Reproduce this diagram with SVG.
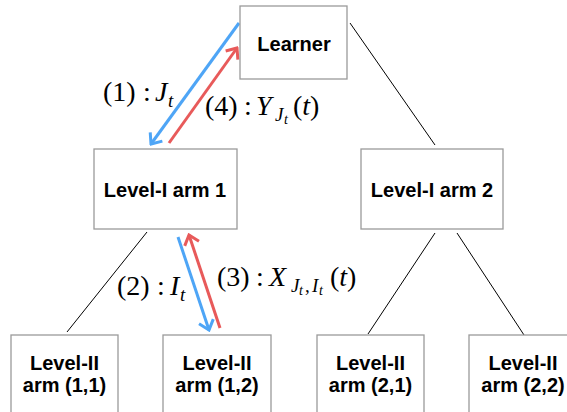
<svg xmlns="http://www.w3.org/2000/svg" width="567" height="412" viewBox="0 0 567 412">
<style>
.box{fill:#fff;stroke:#9a9a9a;stroke-width:1.3}
.lbl{font-family:"Liberation Sans",Arial,sans-serif;font-weight:bold;font-size:20px;fill:#000;text-anchor:middle}
.edge{stroke:#000;stroke-width:1;fill:none}
.blue{stroke:#4ea5f6;stroke-width:3;fill:none}
.red{stroke:#e85a5a;stroke-width:3;fill:none}
.m{font-family:"Liberation Serif","Times New Roman",serif;font-size:28px;fill:#000}
.i{font-style:italic}
.s{font-size:19px}
.ss{font-size:14px}
</style>
<defs>
<marker id="ab" viewBox="-12 -10 14 20" markerWidth="14" markerHeight="20" refX="0" refY="0" orient="auto" markerUnits="userSpaceOnUse">
<path d="M-9,-7.5 L0,0 L-9,7.5" fill="none" stroke="#4ea5f6" stroke-width="3"/>
</marker>
<marker id="ar" viewBox="-12 -10 14 20" markerWidth="14" markerHeight="20" refX="0" refY="0" orient="auto" markerUnits="userSpaceOnUse">
<path d="M-9,-7.5 L0,0 L-9,7.5" fill="none" stroke="#e85a5a" stroke-width="3"/>
</marker>
</defs>
<g id="connectors">
<line class="edge" x1="350" y1="23" x2="435" y2="145"/>
<line class="edge" x1="147" y1="232" x2="67" y2="332"/>
<line class="edge" x1="435" y1="233" x2="368" y2="334"/>
<line class="edge" x1="457" y1="233" x2="524" y2="335"/>
<line class="blue" x1="239" y1="23" x2="151" y2="144" marker-end="url(#ab)"/>
<line class="red" x1="169" y1="143" x2="237" y2="48" marker-end="url(#ar)"/>
<line class="blue" x1="178" y1="237" x2="209" y2="330" marker-end="url(#ab)"/>
<line class="red" x1="220" y1="328" x2="189" y2="235" marker-end="url(#ar)"/>
</g>
<g id="learner">
<rect class="box" x="240" y="6" width="107" height="73"/>
<text class="lbl" x="294" y="51">Learner</text>
</g>
<g id="level1-arm1">
<rect class="box" x="94" y="149" width="143" height="80"/>
<text class="lbl" x="165" y="197">Level-I arm 1</text>
</g>
<g id="level1-arm2">
<rect class="box" x="361" y="149" width="142" height="80"/>
<text class="lbl" x="432" y="197">Level-I arm 2</text>
</g>
<g id="level2-arm11">
<rect class="box" x="11" y="335" width="107" height="90"/>
<text class="lbl" x="64.5" y="370">Level-II</text>
<text class="lbl" x="64.5" y="392">arm (1,1)</text>
</g>
<g id="level2-arm12">
<rect class="box" x="163" y="335" width="108" height="90"/>
<text class="lbl" x="217" y="370">Level-II</text>
<text class="lbl" x="217" y="392">arm (1,2)</text>
</g>
<g id="level2-arm21">
<rect class="box" x="317" y="335" width="107" height="90"/>
<text class="lbl" x="370.5" y="370">Level-II</text>
<text class="lbl" x="370.5" y="392">arm (2,1)</text>
</g>
<g id="level2-arm22">
<rect class="box" x="469" y="335" width="108" height="90"/>
<text class="lbl" x="523" y="370">Level-II</text>
<text class="lbl" x="523" y="392">arm (2,2)</text>
</g>
<g id="labels">
<text class="m" y="101"><tspan x="103">(1)</tspan><tspan x="143">:</tspan><tspan x="155" class="i">J</tspan><tspan x="168" y="107" class="i s">t</tspan></text>
<text class="m" y="115"><tspan x="205">(4)</tspan><tspan x="244">:</tspan><tspan x="256" class="i">Y</tspan><tspan x="275" y="121" class="i s">J</tspan><tspan x="284" y="124" class="i ss">t</tspan><tspan x="293" y="115">(</tspan><tspan class="i">t</tspan><tspan>)</tspan></text>
<text class="m" y="295"><tspan x="117">(2)</tspan><tspan x="157">:</tspan><tspan x="170" class="i">I</tspan><tspan x="180" y="301" class="i s">t</tspan></text>
<text class="m" y="286"><tspan x="217">(3)</tspan><tspan x="256">:</tspan><tspan x="269" class="i">X</tspan><tspan x="291" y="292" class="i s">J</tspan><tspan x="299" y="295" class="i ss">t</tspan><tspan x="305" y="292" class="s">,</tspan><tspan x="312" y="292" class="i s">I</tspan><tspan x="319" y="295" class="i ss">t</tspan><tspan x="330" y="286">(</tspan><tspan class="i">t</tspan><tspan>)</tspan></text>
</g>
</svg>
